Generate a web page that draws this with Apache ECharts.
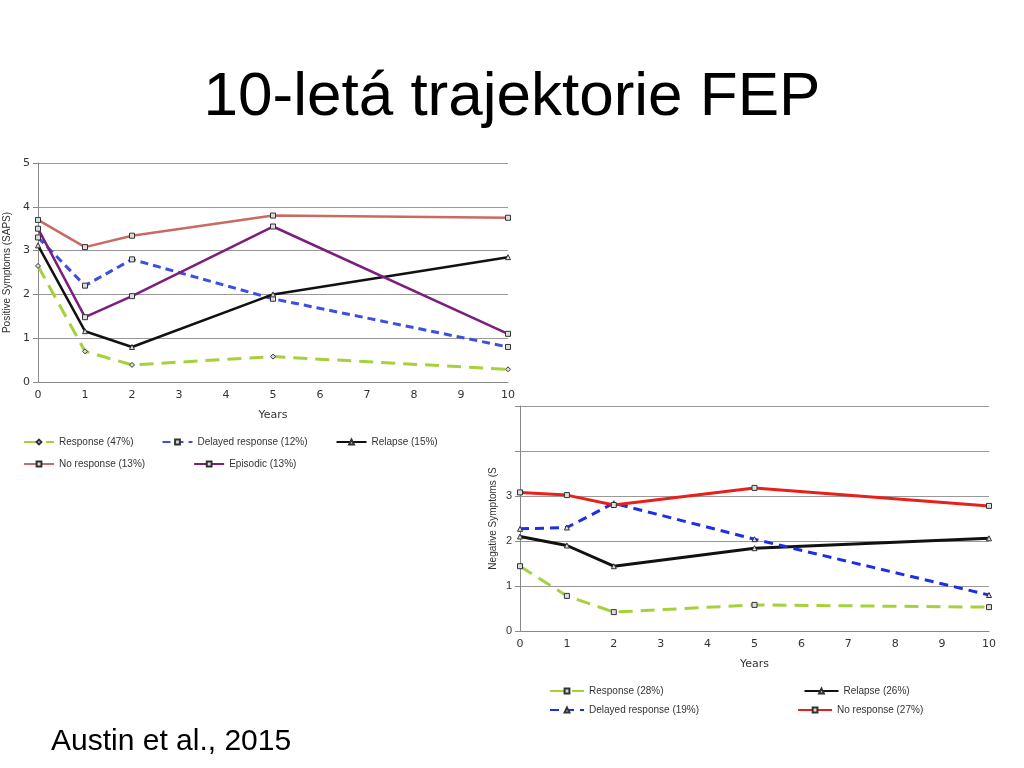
<!DOCTYPE html>
<html><head><meta charset="utf-8">
<script src="https://cdn.jsdelivr.net/npm/echarts@6/dist/echarts.min.js"></script>
<style>html,body{margin:0;background:#fff}#c{width:1024px;height:768px}</style>
</head><body><div id="c"></div>
<script>
// roky sledování
var years = [0, 1, 2, 5, 10];
// pozitivní symptomy (SAPS)
var posResponse = [2.65, 0.7, 0.39, 0.58, 0.29];
var posDelayed = [3.3, 2.2, 2.8, 1.9, 0.8];
var posRelapse = [3.12, 1.16, 0.8, 2.0, 2.85];
var posNoResponse = [3.7, 3.08, 3.34, 3.8, 3.75];
var posEpisodic = [3.5, 1.48, 1.96, 3.55, 1.1];
// negativní symptomy
var negResponse = [1.44, 0.78, 0.42, 0.58, 0.53];
var negRelapse = [2.1, 1.9, 1.44, 1.84, 2.06];
var negDelayed = [2.27, 2.3, 2.84, 2.04, 0.8];
var negNoResponse = [3.08, 3.02, 2.8, 3.18, 2.78];

function pts(v) { return years.map(function (y, i) { return [y, v[i]]; }); }

function mk(name, v, color, type, width, gi, sym) {
    return {
        name: name, type: 'line', xAxisIndex: gi, yAxisIndex: gi, data: pts(v),
        symbol: sym, symbolSize: 5,
        lineStyle: {color: color, width: width, type: type},
        itemStyle: {color: '#ddd', borderColor: '#333', borderWidth: 1},
        emphasis: {disabled: true}
    };
}

var axisLbl = {color: '#333', fontSize: 11, fontFamily: 'DejaVu Sans'};
var chart = echarts.init(document.getElementById('c'));
chart.setOption({
    animation: false,
    title: [
        {text: '10-letá trajektorie FEP', left: 'center', top: 62,
         textStyle: {fontSize: 62, fontWeight: 'normal', fontFamily: 'Liberation Sans', color: '#000'}},
        {text: 'Austin et al., 2015', left: 46, top: 722,
         textStyle: {fontSize: 30, fontWeight: 'normal', fontFamily: 'Liberation Sans', color: '#000'}}
    ],
    grid: [
        {left: 38, top: 163, width: 470, height: 219},
        {left: 520, top: 406, width: 469, height: 225}
    ],
    xAxis: [
        {type: 'value', gridIndex: 0, min: 0, max: 10, interval: 1, name: 'Years',
         nameLocation: 'middle', nameGap: 28, nameTextStyle: axisLbl, axisLabel: axisLbl,
         axisLine: {lineStyle: {color: '#888'}}, axisTick: {show: false}, splitLine: {show: false}},
        {type: 'value', gridIndex: 1, min: 0, max: 10, interval: 1, name: 'Years',
         nameLocation: 'middle', nameGap: 28, nameTextStyle: axisLbl, axisLabel: axisLbl,
         axisLine: {lineStyle: {color: '#888'}}, axisTick: {show: false}, splitLine: {show: false}}
    ],
    yAxis: [
        {type: 'value', gridIndex: 0, min: 0, max: 5, interval: 1, name: 'Positive Symptoms (SAPS)',
         nameLocation: 'middle', nameGap: 26, nameTextStyle: {color: '#333', fontSize: 10}, axisLabel: axisLbl,
         axisLine: {show: true, lineStyle: {color: '#888'}}, splitLine: {lineStyle: {color: '#999'}}},
        {type: 'value', gridIndex: 1, min: 0, max: 5, interval: 1, name: 'Negative Symptoms (S',
         nameLocation: 'middle', nameGap: 22, nameTextStyle: {color: '#333', fontSize: 10},
         axisLabel: {color: '#333', fontSize: 11, formatter: function (v) { return v > 3 ? '' : v; }},
         axisLine: {show: true, lineStyle: {color: '#888'}}, splitLine: {lineStyle: {color: '#999'}}}
    ],
    legend: [
        {data: ['Response (47%)', 'Delayed response (12%)', 'Relapse (15%)'], left: 18, top: 432,
         itemGap: 28, itemWidth: 30, itemHeight: 6, textStyle: {fontSize: 10, color: '#333'}},
        {data: ['No response (13%)', 'Episodic (13%)'], left: 18, top: 454,
         itemGap: 48, itemWidth: 30, itemHeight: 6, textStyle: {fontSize: 10, color: '#333'}},
        {data: ['Response (28%)', 'Relapse (26%)'], left: 544, top: 681,
         itemGap: 140, itemWidth: 34, itemHeight: 6, textStyle: {fontSize: 10, color: '#333'}},
        {data: ['Delayed response (19%)', 'No response (27%)'], left: 544, top: 700,
         itemGap: 98, itemWidth: 34, itemHeight: 6, textStyle: {fontSize: 10, color: '#333'}}
    ],
    series: [
        mk('Response (47%)', posResponse, '#a6d13c', [14, 8], 3, 0, 'diamond'),
        mk('Delayed response (12%)', posDelayed, '#3b4fe0', [8, 5], 3, 0, 'rect'),
        mk('Relapse (15%)', posRelapse, '#111', 'solid', 2.5, 0, 'triangle'),
        mk('No response (13%)', posNoResponse, '#c96a63', 'solid', 2.5, 0, 'rect'),
        mk('Episodic (13%)', posEpisodic, '#7b1f7e', 'solid', 2.5, 0, 'rect'),
        mk('Response (28%)', negResponse, '#a6d13c', [14, 8], 3, 1, 'rect'),
        mk('Relapse (26%)', negRelapse, '#111', 'solid', 3, 1, 'triangle'),
        mk('Delayed response (19%)', negDelayed, '#1c2ee6', [9, 6], 3, 1, 'triangle'),
        mk('No response (27%)', negNoResponse, '#e8201c', 'solid', 3, 1, 'rect')
    ]
});
</script>
</body></html>
